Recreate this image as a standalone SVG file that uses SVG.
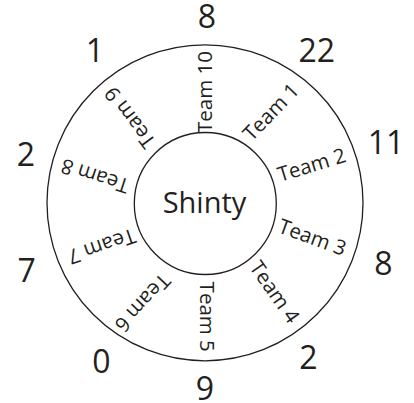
<svg xmlns="http://www.w3.org/2000/svg" width="414" height="403" viewBox="0 0 414 403">
<style>
.ring{fill:none;stroke:#231f20;stroke-width:1.3}
.team{font-family:"Open Sans","Noto Sans",sans-serif;font-size:20.5px;fill:#231f20;text-anchor:middle}
.num{font-family:"Open Sans","Noto Sans",sans-serif;font-size:32px;fill:#231f20;text-anchor:middle}
.hub{font-family:"Open Sans","Noto Sans",sans-serif;font-size:29px;fill:#231f20;text-anchor:middle}
</style>
<rect width="414" height="403" fill="#fff"/>
<g id="outer-ring"><circle class="ring" cx="205" cy="202.8" r="158"/></g>
<g id="hub"><circle class="ring" cx="205.3" cy="203.5" r="71"/><text class="hub" x="204.5" y="213.3">Shinty</text></g>
<g id="teams">
<g id="team10"><text class="team" transform="translate(204.5,92) rotate(-90)" dy="7">Team 10</text></g>
<g id="team1"><text class="team" transform="translate(271,112) rotate(-46)" dy="7">Team 1</text></g>
<g id="team2"><text class="team" transform="translate(311.7,165) rotate(-17)" dy="7">Team 2</text></g>
<g id="team3"><text class="team" transform="translate(312.5,237.5) rotate(20)" dy="7">Team 3</text></g>
<g id="team4"><text class="team" transform="translate(274.5,292) rotate(55)" dy="7">Team 4</text></g>
<g id="team5"><text class="team" transform="translate(207,316.7) rotate(90)" dy="7">Team 5</text></g>
<g id="team6"><text class="team" transform="translate(142.5,302.8) rotate(133)" dy="7">Team 6</text></g>
<g id="team7"><text class="team" transform="translate(101.7,246.2) rotate(161)" dy="7">Team 7</text></g>
<g id="team8"><text class="team" transform="translate(95,175.8) rotate(-162)" dy="7">Team 8</text></g>
<g id="team9"><text class="team" transform="translate(130,117.5) rotate(-126.6)" dy="7">Team 9</text></g>
</g>
<g id="scores">
<text class="num" x="207" y="28.3">8</text>
<text class="num" x="316.7" y="61.7">22</text>
<text class="num" x="386" y="154">11</text>
<text class="num" x="383.3" y="275">8</text>
<text class="num" x="308.5" y="368.7">2</text>
<text class="num" x="205" y="400">9</text>
<text class="num" x="101.3" y="373.3">0</text>
<text class="num" x="26.7" y="282">7</text>
<text class="num" x="25.8" y="166">2</text>
<text class="num" x="95" y="61.7">1</text>
</g>
</svg>
